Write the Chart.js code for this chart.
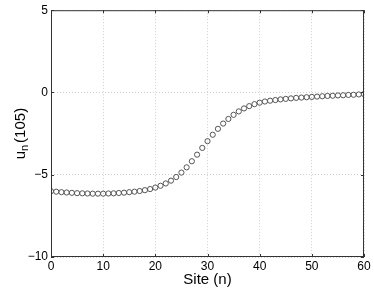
<!DOCTYPE html>
<html>
<head>
<meta charset="utf-8">
<script src="https://cdn.jsdelivr.net/npm/chart.js@4/dist/chart.umd.min.js"></script>
<style>
  html, body { margin: 0; padding: 0; background: #fff; }
  #c { display: block; }
</style>
</head>
<body>
<canvas id="c" width="374" height="289"></canvas>
<script>
const sites = Array.from({ length: 61 }, (_, i) => i);
const u105 = [
  -6.00, -6.03, -6.06, -6.08, -6.10, -6.12, -6.13, -6.14, -6.15, -6.15,
  -6.15, -6.14, -6.13, -6.11, -6.09, -6.06, -6.03, -5.99, -5.94, -5.87,
  -5.78, -5.67, -5.53, -5.36, -5.14, -4.87, -4.55, -4.18, -3.78, -3.37,
  -2.96, -2.57, -2.21, -1.89, -1.61, -1.36, -1.15, -0.97, -0.83, -0.71,
  -0.62, -0.55, -0.50, -0.46, -0.42, -0.39, -0.36, -0.33, -0.31, -0.29,
  -0.27, -0.25, -0.23, -0.21, -0.20, -0.18, -0.17, -0.15, -0.14, -0.12,
  -0.10
];
const xTicks = [0, 10, 20, 30, 40, 50, 60];
const yTicks = [-10, -5, 0, 5];
const xTitle = 'Site (n)';
const yTitle = ['u', 'n', '(105)'];

const FONT = '"Liberation Sans", Arial, Helvetica, sans-serif';
const minus = v => String(v).replace('-', '\u2212');

// box around the axes with inward tick marks, matlab style
const frame = {
  id: 'frame',
  afterDraw(c) {
    const { ctx, chartArea: a, scales: { x, y } } = c;
    ctx.save();
    ctx.strokeStyle = '#333';
    ctx.lineWidth = 1;
    ctx.strokeRect(a.left + .5, a.top + .5, a.right - a.left - 1, a.bottom - a.top - 1);
    ctx.beginPath();
    for (const t of xTicks) {
      const px = Math.round(x.getPixelForValue(t)) + .5;
      ctx.moveTo(px, a.bottom); ctx.lineTo(px, a.bottom - 3);
      ctx.moveTo(px, a.top); ctx.lineTo(px, a.top + 3);
    }
    for (const t of yTicks) {
      const py = Math.round(y.getPixelForValue(t)) + .5;
      ctx.moveTo(a.left, py); ctx.lineTo(a.left + 3, py);
      ctx.moveTo(a.right, py); ctx.lineTo(a.right - 3, py);
    }
    ctx.stroke();

    // y label with subscript
    ctx.fillStyle = '#000';
    ctx.translate(20, (a.top + a.bottom) / 2);
    ctx.rotate(-Math.PI / 2);
    ctx.textBaseline = 'alphabetic';
    const big = '15px ' + FONT, small = '11px ' + FONT;
    ctx.font = big; const w1 = ctx.measureText(yTitle[0]).width;
    ctx.font = small; const w2 = ctx.measureText(yTitle[1]).width + 2;
    ctx.font = big; const w3 = ctx.measureText(yTitle[2]).width;
    let sx = -(w1 + w2 + w3) / 2;
    ctx.font = big; ctx.fillText(yTitle[0], sx, 5); sx += w1;
    ctx.font = small; ctx.fillText(yTitle[1], sx, 8); sx += w2;
    ctx.font = big; ctx.fillText(yTitle[2], sx, 5);
    ctx.restore();
  }
};

new Chart(document.getElementById('c'), {
  type: 'scatter',
  data: {
    datasets: [{
      data: sites.map((n, i) => ({ x: n, y: u105[i] })),
      showLine: false,
      pointStyle: 'circle',
      pointRadius: 2.6,
      pointBorderWidth: 1,
      pointBorderColor: '#555',
      pointBackgroundColor: 'rgba(0,0,0,0)'
    }]
  },
  options: {
    responsive: false,
    animation: false,
    layout: { padding: { top: 9, right: 10, left: 0, bottom: 0 } },
    plugins: { legend: { display: false }, tooltip: { enabled: false } },
    scales: {
      x: {
        min: 0, max: 60,
        afterBuildTicks: s => { s.ticks = xTicks.map(v => ({ value: v })); },
        afterFit: s => { s.height = 32; },
        ticks: { color: '#000', font: { family: FONT, size: 12 }, padding: 2, maxRotation: 0,
                 callback: v => minus(v) },
        grid: { color: '#cfcfcf', drawTicks: false, lineWidth: 1 },
        border: { display: false, dash: [1, 2] },
        title: { display: true, text: xTitle, color: '#000', font: { family: FONT, size: 15 },
                 padding: { top: 0, bottom: 0 } }
      },
      y: {
        min: -10, max: 5,
        afterBuildTicks: s => { s.ticks = yTicks.map(v => ({ value: v })); },
        afterFit: s => { s.width = 51; },
        ticks: { color: '#000', font: { family: FONT, size: 12 }, padding: 3,
                 callback: v => minus(v) },
        grid: { color: '#cfcfcf', drawTicks: false, lineWidth: 1 },
        border: { display: false, dash: [1, 2] }
      }
    }
  },
  plugins: [frame]
});
</script>
</body>
</html>
